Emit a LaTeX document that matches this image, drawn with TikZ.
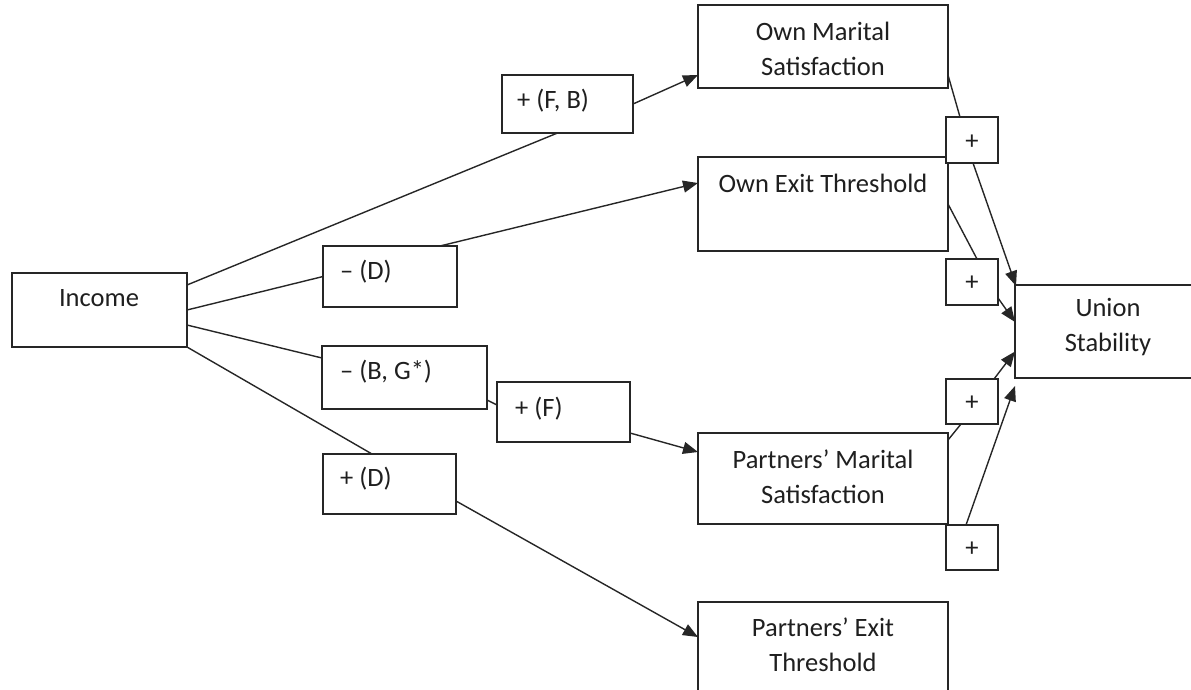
\documentclass[tikz,border=0pt]{standalone}
\usepackage{fontspec}
\setmainfont{Carlito}
\usetikzlibrary{arrows.meta}
\begin{document}
\begin{tikzpicture}[x=1pt,y=-1pt,
  box/.style={draw=black!85,line width=1.3pt,inner sep=0pt,outer sep=0pt,fill=white},
  txt/.style={font=\fontsize{26.5}{35}\selectfont,text=black!88,align=center,inner sep=0pt},
  conn/.style={draw=black!85,line width=1.4pt},
  arr/.style={conn,-{Triangle[length=15pt,width=12pt]}}]
\useasboundingbox (0,0) rectangle (1191,689);
% main boxes
\node[box,minimum width=175pt,minimum height=74pt] (inc) at (99.5,310) {};
\node[box,minimum width=250pt,minimum height=83pt] (oms) at (823,46.5) {};
\node[box,minimum width=250pt,minimum height=94pt] (oet) at (823,204) {};
\node[box,minimum width=186pt,minimum height=93pt] (us) at (1108,331.5) {};
\node[box,minimum width=250pt,minimum height=91pt] (pms) at (823,478.5) {};
\node[box,minimum width=250pt,minimum height=98pt] (pet) at (823,651) {};
% label boxes
\node[box,minimum width=131pt,minimum height=58pt] (fb) at (567.5,104) {};
\node[box,minimum width=134pt,minimum height=61pt] (d1) at (390,276.5) {};
\node[box,minimum width=165pt,minimum height=63pt] (bg) at (404.5,377.5) {};
\node[box,minimum width=133pt,minimum height=60pt] (f) at (563.5,412) {};
\node[box,minimum width=133pt,minimum height=60pt] (d2) at (389.5,484) {};
\node[box,minimum width=52pt,minimum height=46pt] (p1) at (972,140) {};
\node[box,minimum width=52pt,minimum height=46pt] (p2) at (972,282) {};
\node[box,minimum width=52pt,minimum height=45pt] (p3) at (972,401.5) {};
\node[box,minimum width=52pt,minimum height=45pt] (p4) at (972,547.5) {};
% texts
\node[txt] (tinc) at (99,298) {Income};
\node[txt] (toms) at (823,48.5) {Own Marital\\Satisfaction};
\node[txt] (toet) at (823,183) {Own Exit Threshold};
\node[txt] (tus) at (1108,327) {Union\\Stability};
\node[txt] (tpms) at (823,477) {Partners’ Marital\\Satisfaction};
\node[txt] (tpet) at (823,645) {Partners’ Exit\\Threshold};
\node[txt,anchor=west] (tfb) at (517,101) {+ (F, B)};
\node[txt,anchor=west] (td1) at (340,272) {– (D)};
\node[txt,anchor=west] (tbg) at (340,372) {– (B, G*)};
\node[txt,anchor=west] (tf) at (515,409) {+ (F)};
\node[txt,anchor=west] (td2) at (340,479) {+ (D)};
\node[txt] (tp1) at (972,142) {+};
\node[txt] (tp2) at (972,283) {+};
\node[txt] (tp3) at (972,403) {+};
\node[txt] (tp4) at (972,549) {+};
% connectors from income
\draw[conn] ([yshift=25pt]inc.east) -- ([xshift=-10pt]fb.south);
\draw[arr] (fb.east) -- ([yshift=-28.5pt]oms.west);
\draw[conn] (inc.east) -- (d1.west);
\draw[arr] ([xshift=50pt]d1.north) -- ([yshift=21pt]oet.west);
\draw[conn] ([yshift=-15pt]inc.east) -- ([yshift=19.5pt]bg.west);
\draw[conn] ([yshift=-22.5pt]bg.east) -- ([yshift=7pt]f.west);
\draw[arr] ([yshift=-21pt]f.east) -- ([yshift=26.5pt]pms.west);
\draw[conn] (inc.south east) -- ([xshift=-17.5pt]d2.north);
\draw[arr] ([yshift=-17pt]d2.east) -- ([yshift=14pt]pet.west);
% right side
\draw[conn] ([yshift=-28.5pt]oms.east) -- ([xshift=-12pt]p1.north);
\draw[arr] ([xshift=1pt]p1.south) -- ([xshift=1pt,yshift=-1pt]us.north west);
\draw[conn] (oet.east) -- ([xshift=5pt]p2.north);
\draw[arr] ([yshift=-16pt]p2.east) -- ([yshift=9.5pt]us.west);
\draw[conn] ([yshift=38.5pt]pms.east) -- ([xshift=-11pt]p3.south);
\draw[arr] ([xshift=22pt]p3.north) -- ([yshift=-20pt]us.west);
\draw[arr] ([xshift=-6pt]p4.north) -- ([yshift=-8pt]us.south west);
\end{tikzpicture}
\end{document}
